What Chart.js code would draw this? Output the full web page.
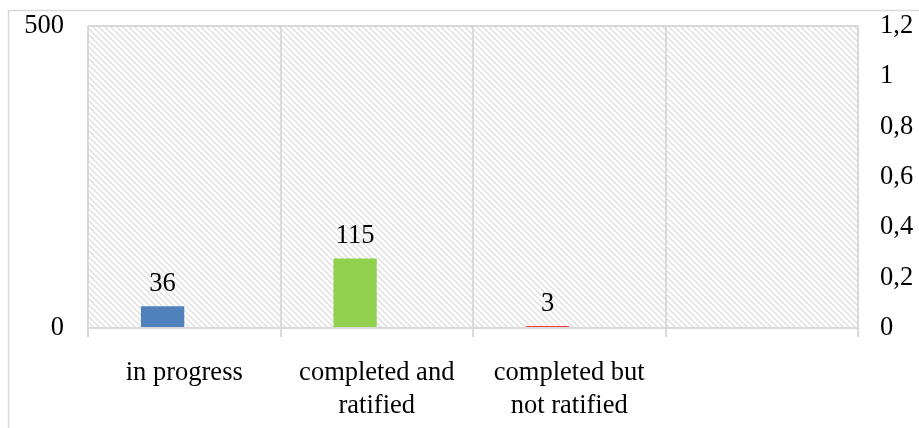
<!DOCTYPE html>
<html>
<head>
<meta charset="utf-8">
<script src="https://cdn.jsdelivr.net/npm/chart.js@4/dist/chart.umd.min.js"></script>
<style>
  html, body { margin: 0; padding: 0; background: #fff; }
  #wrap { width: 919px; height: 428px; position: relative; }
</style>
</head>
<body>
<div id="wrap"><canvas id="chart"></canvas></div>
<script>
// chart data
const categories = ['in progress', ['completed and', 'ratified'], ['completed but', 'not ratified'], ''];
const counts = [36, 115, 3, null];
const barColors = ['#4f81bd', '#92d050', '#ff0000', '#4f81bd'];
const secondaryValues = [null, null, null, null];
const leftTicks = [0, 500];
const rightTicks = [0, 0.2, 0.4, 0.6, 0.8, 1, 1.2];

const FONT = 'Liberation Serif, Times New Roman, serif';
const FONT_SIZE = 26.5;
const GRID = '#d9d9d9';

// diagonal hatch used behind the bars
function makeHatch() {
    const size = 6;
    const c = document.createElement('canvas');
    c.width = size;
    c.height = size;
    const g = c.getContext('2d');
    g.fillStyle = '#ffffff';
    g.fillRect(0, 0, size, size);
    g.strokeStyle = '#e0e0e0';
    g.lineWidth = 1.5;
    g.beginPath();
    g.moveTo(-1, -1); g.lineTo(size + 1, size + 1);
    g.moveTo(-1, size - 1); g.lineTo(1, size + 1);
    g.moveTo(size - 1, -1); g.lineTo(size + 1, 1);
    g.stroke();
    return g.createPattern(c, 'repeat');
}

const backgroundPlugin = {
    id: 'background',
    beforeDraw(chart) {
        const ctx = chart.ctx;
        ctx.save();
        ctx.fillStyle = '#fff';
        ctx.fillRect(0, 0, chart.width, chart.height);
        // outer chart border
        ctx.strokeStyle = GRID;
        ctx.lineWidth = 1.5;
        ctx.strokeRect(8.5, 10.5, chart.width + 20, chart.height + 20);
        // hatched plot area
        const a = chart.chartArea;
        ctx.fillStyle = makeHatch();
        ctx.fillRect(a.left, a.top, a.right - a.left, a.bottom - a.top);
        ctx.restore();
    }
};

const valueLabels = {
    id: 'valueLabels',
    afterDatasetsDraw(chart) {
        const ctx = chart.ctx;
        const meta = chart.getDatasetMeta(0);
        ctx.save();
        ctx.font = FONT_SIZE + 'px ' + FONT;
        ctx.fillStyle = '#000';
        ctx.textAlign = 'center';
        ctx.textBaseline = 'bottom';
        meta.data.forEach((bar, i) => {
            if (counts[i] === null) return;
            ctx.fillText(String(counts[i]), bar.x, bar.y - 9);
        });
        ctx.restore();
    }
};

// keep axis label overflow from pushing the plot area down
function fixVertical(width) {
    return function(scale) {
        scale.width = width;
        scale.paddingTop = 0;
        scale.paddingBottom = 0;
    };
}

new Chart(document.getElementById('chart'), {
    type: 'bar',
    data: {
        labels: categories,
        datasets: [
            {
                label: 'count',
                data: counts,
                backgroundColor: barColors,
                yAxisID: 'y',
                barPercentage: 1,
                categoryPercentage: 0.45
            },
            {
                label: 'secondary',
                data: secondaryValues,
                backgroundColor: '#c0504d',
                yAxisID: 'y1',
                barPercentage: 1,
                categoryPercentage: 0.45
            }
        ]
    },
    options: {
        responsive: true,
        maintainAspectRatio: false,
        animation: false,
        layout: { padding: { top: 26, left: 0, right: 0, bottom: 0 } },
        plugins: {
            legend: { display: false },
            tooltip: { enabled: false }
        },
        scales: {
            x: {
                grid: {
                    offset: true,
                    color: GRID,
                    lineWidth: 2,
                    drawTicks: true,
                    tickLength: 9
                },
                border: { display: false },
                ticks: {
                    color: '#000',
                    font: { family: FONT, size: FONT_SIZE, lineHeight: 1.25 },
                    padding: 19,
                    maxRotation: 0,
                    autoSkip: false
                },
                afterFit(scale) {
                    scale.height = 100;
                    scale.paddingLeft = 0;
                    scale.paddingRight = 0;
                }
            },
            y: {
                position: 'left',
                min: 0,
                max: 500,
                afterBuildTicks(scale) { scale.ticks = leftTicks.map(v => ({ value: v })); },
                grid: { color: GRID, lineWidth: 2, drawTicks: false },
                border: { display: false },
                ticks: {
                    color: '#000',
                    font: { family: FONT, size: FONT_SIZE },
                    padding: 24
                },
                afterFit: fixVertical(88)
            },
            y1: {
                position: 'right',
                min: 0,
                max: 1.2,
                afterBuildTicks(scale) { scale.ticks = rightTicks.map(v => ({ value: v })); },
                grid: { display: false, drawTicks: false },
                border: { display: false },
                ticks: {
                    color: '#000',
                    font: { family: FONT, size: FONT_SIZE },
                    padding: 22,
                    callback: v => String(Math.round(v * 10) / 10).replace('.', ',')
                },
                afterFit: fixVertical(61)
            }
        }
    },
    plugins: [backgroundPlugin, valueLabels]
});
</script>
</body>
</html>
